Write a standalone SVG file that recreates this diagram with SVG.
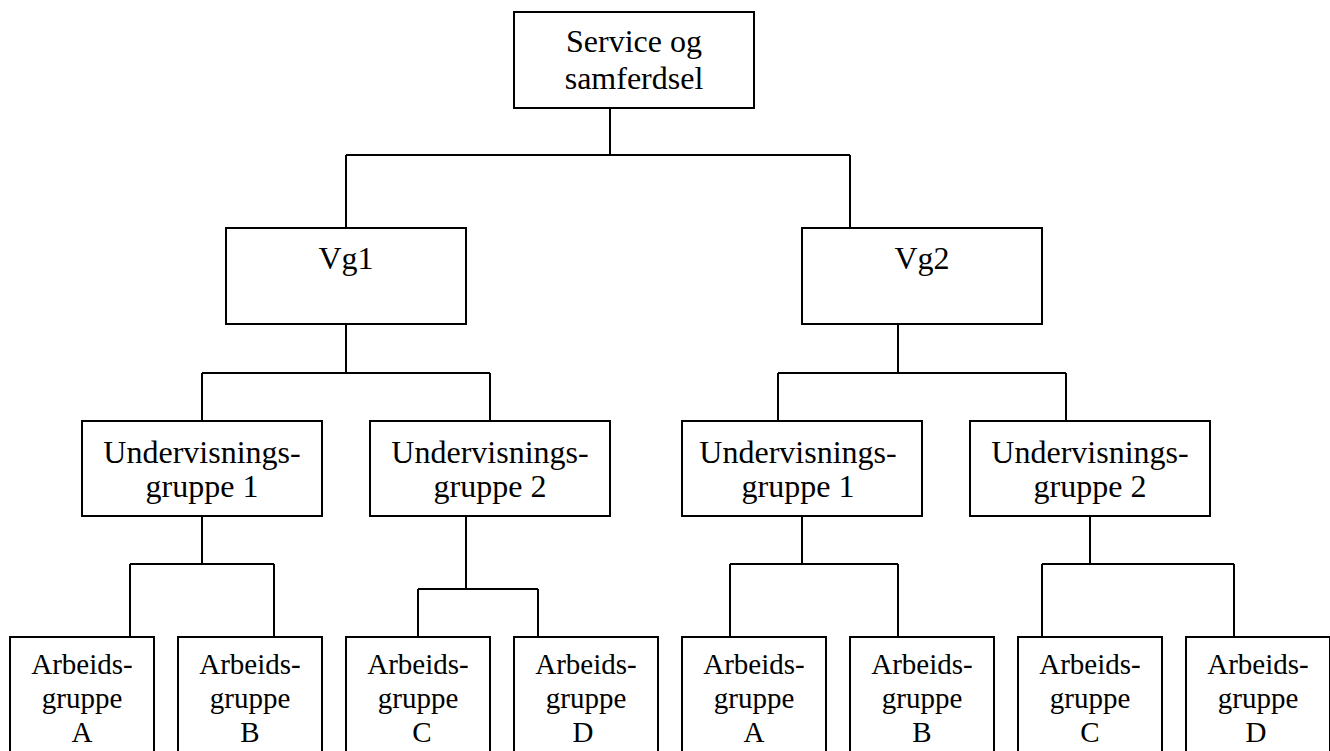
<svg xmlns="http://www.w3.org/2000/svg" width="1330" height="751" viewBox="0 0 1330 751">
  <style>
    .box { fill: #ffffff; stroke: #000000; stroke-width: 2; }
    .conn { fill: none; stroke: #000000; stroke-width: 2; }
    .lbl { font-family: "Liberation Serif", "Times New Roman", serif; font-size: 32px; fill: #000000; text-anchor: middle; }
    .small { font-size: 29px; }
  </style>
  <rect width="1330" height="751" fill="#ffffff"/>

  <!-- connectors -->
  <g id="connectors" class="conn">
    <path d="M610,108 V155 M346,155 H850 M346,155 V228 M850,155 V228"/>
    <path d="M346,324 V373 M202,373 H490 M202,373 V421 M490,373 V421"/>
    <path d="M898,324 V373 M778,373 H1066 M778,373 V421 M1066,373 V421"/>
    <path d="M202,516 V564 M130,564 H274 M130,564 V637 M274,564 V637"/>
    <path d="M466,516 V589 M418,589 H538 M418,589 V637 M538,589 V637"/>
    <path d="M802,516 V564 M730,564 H898 M730,564 V637 M898,564 V637"/>
    <path d="M1090,516 V564 M1042,564 H1234 M1042,564 V637 M1234,564 V637"/>
  </g>

  <!-- root -->
  <g id="root">
    <rect class="box" x="514" y="12" width="240" height="96"/>
    <text class="lbl" x="634" y="52">Service og</text>
    <text class="lbl" x="634" y="89">samferdsel</text>
  </g>

  <!-- level 1 -->
  <g id="vg1">
    <rect class="box" x="226" y="228" width="240" height="96"/>
    <text class="lbl" x="346" y="269">Vg1</text>
  </g>
  <g id="vg2">
    <rect class="box" x="802" y="228" width="240" height="96"/>
    <text class="lbl" x="922" y="269">Vg2</text>
  </g>

  <!-- level 2 -->
  <g id="vg1-ug1">
    <rect class="box" x="82" y="421" width="240" height="95"/>
    <text class="lbl" x="202" y="463">Undervisnings-</text>
    <text class="lbl" x="202" y="497">gruppe 1</text>
  </g>
  <g id="vg1-ug2">
    <rect class="box" x="370" y="421" width="240" height="95"/>
    <text class="lbl" x="490" y="463">Undervisnings-</text>
    <text class="lbl" x="490" y="497">gruppe 2</text>
  </g>
  <g id="vg2-ug1">
    <rect class="box" x="682" y="421" width="240" height="95"/>
    <text class="lbl" x="798" y="463">Undervisnings-</text>
    <text class="lbl" x="798" y="497">gruppe 1</text>
  </g>
  <g id="vg2-ug2">
    <rect class="box" x="970" y="421" width="240" height="95"/>
    <text class="lbl" x="1090" y="463">Undervisnings-</text>
    <text class="lbl" x="1090" y="497">gruppe 2</text>
  </g>

  <!-- level 3 -->
  <g id="vg1-ag-a">
    <rect class="box" x="10" y="637" width="144" height="130"/>
    <text class="lbl small" x="82" y="674">Arbeids-</text>
    <text class="lbl small" x="82" y="708">gruppe</text>
    <text class="lbl small" x="82" y="742">A</text>
  </g>
  <g id="vg1-ag-b">
    <rect class="box" x="178" y="637" width="144" height="130"/>
    <text class="lbl small" x="250" y="674">Arbeids-</text>
    <text class="lbl small" x="250" y="708">gruppe</text>
    <text class="lbl small" x="250" y="742">B</text>
  </g>
  <g id="vg1-ag-c">
    <rect class="box" x="346" y="637" width="144" height="130"/>
    <text class="lbl small" x="418" y="674">Arbeids-</text>
    <text class="lbl small" x="418" y="708">gruppe</text>
    <text class="lbl small" x="422" y="742">C</text>
  </g>
  <g id="vg1-ag-d">
    <rect class="box" x="514" y="637" width="144" height="130"/>
    <text class="lbl small" x="586" y="674">Arbeids-</text>
    <text class="lbl small" x="586" y="708">gruppe</text>
    <text class="lbl small" x="583" y="742">D</text>
  </g>
  <g id="vg2-ag-a">
    <rect class="box" x="682" y="637" width="144" height="130"/>
    <text class="lbl small" x="754" y="674">Arbeids-</text>
    <text class="lbl small" x="754" y="708">gruppe</text>
    <text class="lbl small" x="754" y="742">A</text>
  </g>
  <g id="vg2-ag-b">
    <rect class="box" x="850" y="637" width="144" height="130"/>
    <text class="lbl small" x="922" y="674">Arbeids-</text>
    <text class="lbl small" x="922" y="708">gruppe</text>
    <text class="lbl small" x="922" y="742">B</text>
  </g>
  <g id="vg2-ag-c">
    <rect class="box" x="1018" y="637" width="144" height="130"/>
    <text class="lbl small" x="1090" y="674">Arbeids-</text>
    <text class="lbl small" x="1090" y="708">gruppe</text>
    <text class="lbl small" x="1090" y="742">C</text>
  </g>
  <g id="vg2-ag-d">
    <rect class="box" x="1186" y="637" width="144" height="130"/>
    <text class="lbl small" x="1258" y="674">Arbeids-</text>
    <text class="lbl small" x="1258" y="708">gruppe</text>
    <text class="lbl small" x="1256" y="742">D</text>
  </g>
</svg>
